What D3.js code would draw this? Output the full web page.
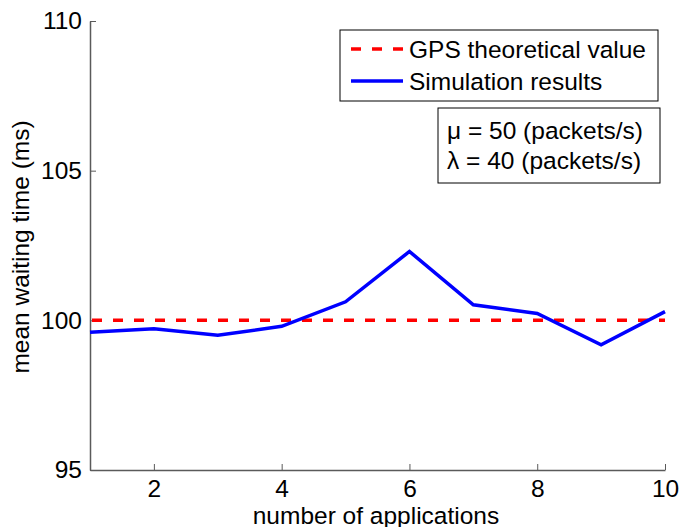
<!DOCTYPE html>
<html><head><meta charset="utf-8">
<script src="https://cdn.jsdelivr.net/npm/d3@7"></script>
<style>body{margin:0;background:#fff}text{font-family:"Liberation Sans",Arial,sans-serif}</style>
</head><body>
<svg id="c" width="680" height="527"></svg>
<script>
const apps = [1,2,3,4,5,6,7,8,9,10];
const simulation = [99.6,99.72,99.5,99.8,100.62,102.3,100.52,100.23,99.18,100.29];
const gpsValue = 100;
const xTicks = [2,4,6,8,10];
const yTicks = [95,100,105,110];
const legendLabels = ["GPS theoretical value","Simulation results"];
const noteLines = ["\u03bc = 50 (packets/s)","\u03bb = 40 (packets/s)"];

const svg = d3.select("#c");
const L=90,R=665,T=21,B=470;
const x = d3.scaleLinear().domain([1,10]).range([L,R]);
const y = d3.scaleLinear().domain([95,110]).range([B,T]);
const axisColor="#5a5a5a";
const fs="24.5px";

const gx = svg.append("g").attr("transform",`translate(0,${B})`)
  .call(d3.axisBottom(x).tickValues(xTicks).tickSizeInner(-6).tickSizeOuter(0).tickPadding(10));
const gy = svg.append("g").attr("transform",`translate(${L},0)`)
  .call(d3.axisLeft(y).tickValues(yTicks).tickSizeInner(-6).tickSizeOuter(0).tickPadding(8));
[gx,gy].forEach(g=>{
  g.select(".domain").attr("stroke",axisColor).attr("stroke-width",1.5);
  g.selectAll(".tick line").attr("stroke",axisColor).attr("stroke-width",1);
  g.selectAll(".tick text").attr("fill","#000").style("font-size",fs).style("font-family","Liberation Sans, Arial, sans-serif");
});
gx.selectAll(".tick text").attr("dy","0.71em");

// GPS line
svg.append("line").attr("x1",x(1)).attr("x2",x(10)).attr("y1",y(gpsValue)).attr("y2",y(gpsValue))
  .attr("stroke","#ff0000").attr("stroke-width",3.5).attr("stroke-dasharray","10,11").attr("stroke-dashoffset",-2);
// Simulation
svg.append("path").datum(apps.map((a,i)=>[a,simulation[i]]))
  .attr("d",d3.line().x(d=>x(d[0])).y(d=>y(d[1])))
  .attr("fill","none").attr("stroke","#0000ff").attr("stroke-width",3.5).attr("stroke-linejoin","miter");

// Legend
svg.append("rect").attr("x",340).attr("y",30).attr("width",318).attr("height",71)
  .attr("fill","#fff").attr("stroke","#000").attr("stroke-width",1);
svg.append("line").attr("x1",351).attr("x2",403).attr("y1",49).attr("y2",49)
  .attr("stroke","#ff0000").attr("stroke-width",3.5).attr("stroke-dasharray","10,11");
svg.append("line").attr("x1",351).attr("x2",403).attr("y1",81).attr("y2",81)
  .attr("stroke","#0000ff").attr("stroke-width",3.5);
svg.selectAll(".leg").data(legendLabels).enter().append("text")
  .attr("x",409).attr("y",(d,i)=>57.5+i*32).style("font-size",fs).text(d=>d);

// Note box
svg.append("rect").attr("x",438).attr("y",108).attr("width",222).attr("height",75)
  .attr("fill","#fff").attr("stroke","#000").attr("stroke-width",1);
svg.selectAll(".note").data(noteLines).enter().append("text")
  .attr("x",447).attr("y",(d,i)=>138.5+i*30).style("font-size",fs).text(d=>d);

// Axis titles
svg.append("text").attr("x",376).attr("y",524).attr("text-anchor","middle")
  .style("font-size",fs).text("number of applications");
svg.append("text").attr("transform",`translate(29,247) rotate(-90)`).attr("text-anchor","middle")
  .style("font-size",fs).text("mean waiting time (ms)");
</script>
</body></html>
